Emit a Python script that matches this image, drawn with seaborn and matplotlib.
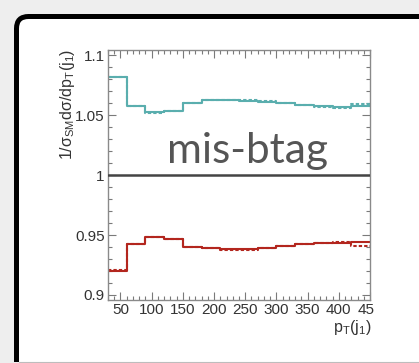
import matplotlib
matplotlib.use("Agg")
import matplotlib.pyplot as plt
import numpy as np
import pandas as pd
import seaborn as sns
from matplotlib.patches import FancyBboxPatch, Rectangle
from matplotlib.ticker import MultipleLocator, FixedLocator
from matplotlib.transforms import Bbox, TransformedBbox

# pT(j1) binning (GeV)
bin_edges = [30, 60, 90, 120, 150, 180, 210, 240, 270, 300, 330, 360, 390, 420, 450]

# normalised differential ratios, one value per bin
teal_solid = [1.0815, 1.0580, 1.0525, 1.0537, 1.0603, 1.0628, 1.0628, 1.0622,
              1.0609, 1.0598, 1.0586, 1.0578, 1.0570, 1.0574]
teal_dotted = [1.0815, 1.0578, 1.0517, 1.0536, 1.0603, 1.0628, 1.0628, 1.0625,
               1.0615, 1.0601, 1.0583, 1.0571, 1.0557, 1.0596]
red_solid = [0.9198, 0.9425, 0.9480, 0.9467, 0.9400, 0.9390, 0.9380, 0.9380,
             0.9396, 0.9412, 0.9426, 0.9431, 0.9432, 0.9440]
red_dotted = [0.9206, 0.9428, 0.9484, 0.9470, 0.9402, 0.9390, 0.9379, 0.9377,
              0.9389, 0.9405, 0.9425, 0.9433, 0.9438, 0.9410]

x_ticks = [50, 100, 150, 200, 250, 300, 350, 400, 450]
y_ticks = [0.9, 0.95, 1.0, 1.05, 1.1]
y_tick_labels = ["0.9", "0.95", "1", "1.05", "1.1"]

TEAL = "#5aaeae"
RED = "#b3261e"

sns.set_style("ticks")
plt.rcParams["font.family"] = ["Liberation Sans", "DejaVu Sans"]
plt.rcParams["mathtext.fontset"] = "custom"
plt.rcParams["mathtext.rm"] = "Liberation Sans"
plt.rcParams["mathtext.it"] = "Liberation Sans"
plt.rcParams["mathtext.default"] = "regular"

W, H = 419, 363
fig = plt.figure(figsize=(W / 100, H / 100), dpi=100)
fig.patch.set_facecolor("#eeeeee")

# slide frame drawn in pixel coordinates (y grows downwards)
bg = fig.add_axes([0, 0, 1, 1], zorder=-5)
bg.set_xlim(0, W)
bg.set_ylim(H, 0)
bg.axis("off")
frame = FancyBboxPatch((16.5, 16.5), 1000, 1000,
                       boxstyle="round,pad=0,rounding_size=12",
                       facecolor="white", edgecolor="black", linewidth=3.6,
                       clip_on=False)
bg.add_patch(frame)
bg.add_patch(Rectangle((0, 362.0), W, 5, facecolor="#eeeeee",
                       edgecolor="none", clip_on=False))
bg.plot([19, W], [361.5, 361.5], color="#bdbdbd", lw=0.8, clip_on=False)

ax_left, ax_right, ax_top, ax_bottom = 108, 370, 50, 300
ax = fig.add_axes([ax_left / W, 1 - ax_bottom / H,
                   (ax_right - ax_left) / W, (ax_bottom - ax_top) / H])
ax.set_facecolor("none")


def step_frame(values):
    return pd.DataFrame({"pt": bin_edges, "ratio": list(values) + [values[-1]]})


series = [
    (teal_dotted, TEAL, (0, (1.6, 1.0))),
    (teal_solid, TEAL, "-"),
    (red_dotted, RED, (0, (1.6, 1.0))),
    (red_solid, RED, "-"),
]
for vals, col, ls in series:
    sns.lineplot(data=step_frame(vals), x="pt", y="ratio", ax=ax,
                 drawstyle="steps-post", color=col, linestyle=ls,
                 linewidth=1.5, estimator=None, sort=False)

ax.axhline(1.0, color="#444444", lw=1.8, zorder=3)

ax.set_xlim(30, 450)
ax.set_ylim(0.8958, 1.1044)
ax.xaxis.set_major_locator(FixedLocator(x_ticks))
ax.xaxis.set_minor_locator(MultipleLocator(10))
ax.set_yticks(y_ticks, y_tick_labels)
ax.yaxis.set_minor_locator(MultipleLocator(0.01))
ax.set_xlabel("")
ax.set_ylabel("")

for s in ax.spines.values():
    s.set_color("#8a8a8a")
    s.set_linewidth(1.0)
ax.tick_params(which="both", direction="in", top=True, right=True,
               color="#7a7a7a", width=0.8, labelsize=11,
               labelcolor="#333333")
ax.tick_params(which="major", length=5.5, pad=2.5)
ax.tick_params(which="minor", length=3)

# last x tick label runs off the canvas edge
clip = TransformedBbox(Bbox.from_extents(0, 0, 373.5 / W, 1), fig.transFigure)
for lab in ax.get_xticklabels():
    lab.set_clip_box(clip)
    lab.set_clip_on(True)

fig.text(67, 49, r"1/$\sigma_{SM}$d$\sigma$/dp$_{T}$(j$_{1}$)",
         transform=bg.transData, rotation=90, ha="center", va="top",
         fontsize=11.5, color="#333333")
fig.text(371, 318, r"p$_{T}$(j$_{1}$)", transform=bg.transData,
         ha="right", va="top", fontsize=11.5, color="#333333")

fig.text(167, 163, "mis-btag", transform=bg.transData, ha="left",
         va="baseline", fontsize=30.5, color="#555555",
         family=["Lato", "DejaVu Sans"])

fig.savefig("out.png", dpi=100, facecolor=fig.get_facecolor())
